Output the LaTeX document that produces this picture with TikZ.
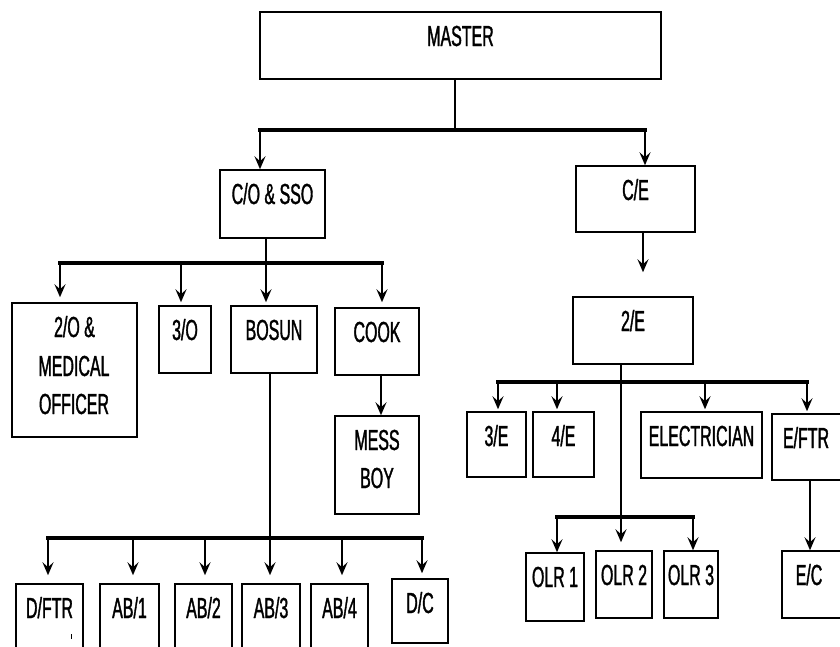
\documentclass[tikz,border=0pt]{standalone}
\usepackage{fontspec}
\newfontfamily\narrowfont[FakeStretch=0.55,FakeBold=1.2]{Liberation Sans}
\usetikzlibrary{arrows.meta}
\tikzset{
 orgbox/.style={draw=black, line width=1.5pt, inner sep=0pt, fill=white},
 lbl/.style={font=\narrowfont\fontsize{29}{32}\selectfont, inner sep=0pt, anchor=base},
 bus/.style={line width=4pt, line cap=rect},
 stem/.style={line width=1.2pt},
 thickstem/.style={line width=2.2pt},
 arr/.style={line width=2.2pt, -{Stealth[length=13pt,width=11pt,inset=5pt]}},
}
\newcommand\orgbox[6]{%
 \node[orgbox, minimum width={(#4-#2)*1pt}, minimum height={(#5-#3)*1pt}] (#1) at ({(#2+#4)/2},{-(#3+#5)/2}) {};
 \node[lbl] (#1-t) at ({(#2+#4)/2},{-(#3+34)}) {#6};}
\newcommand\orgline[4]{\node[lbl] (#1) at (#2,{-(#3)}) {#4};}
\begin{document}
\begin{tikzpicture}[x=1pt,y=1pt]
\useasboundingbox (0,0) rectangle (840,-646);
\fill[white] (0,0) rectangle (840,-646);
\clip (0,0) rectangle (840,-646);
% boxes
\orgbox{master}{260}{12}{661}{79}{MASTER}
\orgbox{co}{220}{170}{325}{238}{C/O \& SSO}
\orgbox{ce}{576}{166}{695}{232}{C/E}
\orgbox{o2}{12}{303}{137}{437}{2/O \&}
\orgline{o2-t2}{74}{376}{MEDICAL}
\orgline{o2-t3}{74}{414}{OFFICER}
\orgbox{o3}{159}{306}{211}{373}{3/O}
\orgbox{bosun}{231}{306}{317}{373}{BOSUN}
\orgbox{cook}{335}{308}{419}{375}{COOK}
\orgbox{mess}{335}{416}{419}{514}{MESS}
\orgline{mess-t2}{377}{488}{BOY}
\orgbox{e2}{573}{297}{693}{364}{2/E}
\orgbox{e3}{467}{412}{526}{477}{3/E}
\orgbox{e4}{533}{412}{594}{477}{4/E}
\orgbox{elec}{641}{412}{762}{478}{ELECTRICIAN}
\orgbox{eftr}{772}{414}{860}{480}{}
\orgline{eftr-t2}{806}{448}{E/FTR}
\orgbox{olr1}{526}{553}{584}{621}{OLR 1}
\orgbox{olr2}{596}{551}{652}{618}{OLR 2}
\orgbox{olr3}{664}{551}{718}{618}{OLR 3}
\orgbox{ec}{782}{551}{860}{618}{}
\orgline{ec-t2}{809}{585}{E/C}
\orgbox{dftr}{16}{584}{83}{690}{D/FTR}
\orgbox{ab1}{100}{584}{159}{690}{AB/1}
\orgbox{ab2}{175}{584}{232}{690}{AB/2}
\orgbox{ab3}{242}{584}{300}{690}{AB/3}
\orgbox{ab4}{311}{584}{368}{690}{AB/4}
\orgbox{dc}{392}{579}{448}{643}{D/C}
\draw[line width=1pt] (71,-634) -- (71,-639);
% level 1
\coordinate (b1l) at (260,-130);
\coordinate (b1r) at (645,-130);
\draw[stem] ([xshift=-5.5]master.south) -- ([xshift=-5.5]master.south |- b1l);
\draw[bus] (b1l) -- (b1r);
\draw[arr] (b1l) -- (b1l |- co.north);
\draw[arr] (b1r) -- (b1r |- ce.north);
% deck side
\coordinate (b2l) at (60,-263);
\coordinate (b2a) at (181,-263);
\coordinate (b2b) at (266,-263);
\coordinate (b2r) at (382,-263);
\draw[thickstem] ([xshift=-6.5]co.south) -- (b2b);
\draw[bus] (b2l) -- (b2r);
\draw[arr, shorten >=5pt] (b2l) -- (b2l |- o2.north);
\draw[arr, shorten >=3pt] (b2a) -- (b2a |- o3.north);
\draw[arr, shorten >=3pt] (b2b) -- (b2b |- bosun.north);
\draw[arr, shorten >=5pt] (b2r) -- (b2r |- cook.north);
\draw[arr] ([xshift=4]cook.south) -- ([xshift=4]mess.north);
% bosun crew
\coordinate (b3l) at (48,-538);
\coordinate (b3a) at (133,-538);
\coordinate (b3b) at (205,-538);
\coordinate (b3d) at (342,-538);
\coordinate (b3r) at (422,-538);
\draw[bus] (b3l) -- (b3r);
\draw[arr, shorten >=8pt] ([xshift=-4]bosun.south) -- ([xshift=-4]bosun.south |- ab3.north);
\draw[arr, shorten >=8pt] (b3l) -- (b3l |- dftr.north);
\draw[arr, shorten >=8pt] (b3a) -- (b3a |- ab1.north);
\draw[arr, shorten >=8pt] (b3b) -- (b3b |- ab2.north);
\draw[arr, shorten >=8pt] (b3d) -- (b3d |- ab4.north);
\draw[arr, shorten >=5pt] (b3r) -- (b3r |- dc.north);
% engine side
\draw[arr, shorten >=24pt] ([xshift=7.5]ce.south) -- ([xshift=7.5]ce.south |- e2.north);
\coordinate (b4l) at (498,-382);
\coordinate (b4a) at (557,-382);
\coordinate (b4b) at (705,-382);
\coordinate (b4r) at (807,-382);
\draw[bus] (b4l) -- (b4r);
\draw[arr, shorten >=8pt] ([xshift=-12]e2.south) -- ([xshift=-12]e2.south |- olr2.north);
\draw[arr, shorten >=2pt] (b4l) -- (b4l |- e3.north);
\draw[arr, shorten >=2pt] (b4a) -- (b4a |- e4.north);
\draw[arr, shorten >=2pt] (b4b) -- (b4b |- elec.north);
\draw[arr, shorten >=2pt] (b4r) -- (b4r |- eftr.north);
\coordinate (b5l) at (557,-517);
\coordinate (b5r) at (693,-517);
\draw[bus, line width=3.5pt] (b5l) -- (b5r);
\draw[arr] (b5l) -- (b5l |- olr1.north);
\draw[arr] (b5r) -- (b5r |- olr3.north);
\coordinate (fx) at (810,0);
\draw[arr] (eftr.south -| fx) -- (ec.north -| fx);
\end{tikzpicture}
\end{document}
